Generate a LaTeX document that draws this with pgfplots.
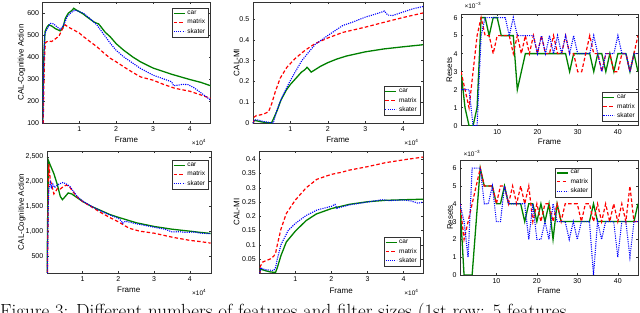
\documentclass[border=0pt]{standalone}
\usepackage{fontspec}
\usepackage{pgfplots}
\pgfplotsset{compat=1.18}
\newfontfamily\arial{Liberation Sans}
\definecolor{mgreen}{rgb}{0,0.5,0}
\definecolor{mred}{rgb}{1,0,0}
\definecolor{mblue}{rgb}{0,0,1}
\tikzset{
  pcar/.style={draw=mgreen, solid, line width=1.3bp},
  pmat/.style={draw=mred, line width=1.2bp, dash pattern=on 3.5bp off 2.2bp},
  pska/.style={draw=mblue, line width=1.1bp, dash pattern=on 1.1bp off 1.1bp},
}
\pgfplotsset{
  legend image code/.code={\draw[#1] (0bp,0bp) -- (11bp,0bp);},
  matlab/.style={
    scale only axis,
    axis line style={black!80, line width=0.4bp},
    tick style={black!80, line width=0.4bp},
    tick align=inside,
    major tick length=2bp,
    /pgf/number format/assume math mode=true,
    ticklabel style={font=\arial\fontsize{7bp}{8bp}\selectfont},
    label style={font=\arial\fontsize{8bp}{9bp}\selectfont},
    legend style={font=\arial\fontsize{6.5bp}{7.5bp}\selectfont, draw=black!80, line width=0.4bp,
      inner xsep=1bp, inner ysep=0.6bp, row sep=-0.8bp},
    legend cell align=left,
    xlabel={Frame},
    clip=true,
  },
}
\newcommand{\tlab}{\arial\fontsize{6.5bp}{7bp}\selectfont}
\begin{document}
\begin{tikzpicture}
% ---------- Panel 1 ----------
\begin{axis}[matlab, name=a1, at={(42.5bp,-1.7bp)}, anchor=north west,
  width=168bp, height=121.6bp, xmin=0, xmax=4.56, ymin=100, ymax=650,
  xtick={1,2,3,4}, ytick={100,200,300,400,500,600},
  ylabel={CAL-Cognitive Action},
  ylabel style={at={(axis description cs:-0.124,0.5)}, anchor=center},
  xlabel style={at={(axis description cs:0.5,-0.137)}, anchor=center},
  legend style={at={(0.987,0.946)}, anchor=north east}]
\addplot[pcar] coordinates {(0.005,100) (0.02,250) (0.04,420) (0.07,515) (0.12,535) (0.17,545) (0.25,540) (0.35,528) (0.48,518) (0.55,530) (0.62,575) (0.7,598) (0.78,608) (0.85,620) (0.92,612) (1.0,605) (1.1,595) (1.2,582) (1.3,570) (1.4,558) (1.48,552) (1.52,550) (1.58,538) (1.7,512) (1.84,491) (2.0,460) (2.2,431) (2.45,400) (2.66,378) (3.0,350) (3.5,322) (4.0,298) (4.3,285) (4.56,270)};
\addlegendentry{car}
\addplot[pmat] coordinates {(0.02,100) (0.04,300) (0.06,420) (0.08,465) (0.15,472) (0.25,470) (0.35,482) (0.45,495) (0.55,530) (0.62,545) (0.7,535) (0.85,522) (1.0,508) (1.12,491) (1.3,468) (1.48,446) (1.65,420) (1.84,394) (2.0,378) (2.2,356) (2.45,330) (2.66,310) (3.0,295) (3.3,275) (3.6,258) (4.0,245) (4.3,228) (4.56,213)};
\addlegendentry{matrix}
\addplot[pska] coordinates {(0.01,100) (0.03,350) (0.06,500) (0.1,520) (0.21,552) (0.3,550) (0.4,535) (0.48,525) (0.56,540) (0.67,582) (0.78,602) (0.89,612) (1.0,605) (1.12,597) (1.3,572) (1.48,544) (1.65,505) (1.84,462) (2.0,430) (2.2,401) (2.45,372) (2.66,348) (3.0,318) (3.3,300) (3.5,288) (3.56,270) (3.65,272) (3.8,276) (3.95,275) (4.1,262) (4.3,238) (4.56,205)};
\addlegendentry{skater}
\end{axis}
\node[anchor=east, font=\tlab] at ([xshift=-1bp,yshift=-19bp]a1.south east) {×10\textsuperscript{4}};
% ---------- Panel 2 ----------
\begin{axis}[matlab, name=a2, at={(252.7bp,-1.7bp)}, anchor=north west,
  width=170.3bp, height=121.6bp, xmin=0, xmax=4.54, ymin=0, ymax=0.582,
  xtick={1,2,3,4}, ytick={0,0.1,0.2,0.3,0.4,0.5},
  yticklabels={0,0.1,0.2,0.3,0.4,0.5},
  ylabel={CAL-MI},
  ylabel style={at={(axis description cs:-0.094,0.5)}, anchor=center},
  xlabel style={at={(axis description cs:0.5,-0.137)}, anchor=center},
  legend style={at={(0.982,0.0625)}, anchor=south east}]
\addplot[pcar] coordinates {(0.01,0) (0.04,0.014) (0.1,0.012) (0.2,0.008) (0.3,0.005) (0.4,0.003) (0.5,0.002) (0.55,0.02) (0.65,0.06) (0.75,0.11) (0.9,0.16) (1.0,0.185) (1.1,0.205) (1.2,0.225) (1.3,0.245) (1.38,0.255) (1.45,0.268) (1.5,0.258) (1.56,0.245) (1.65,0.255) (1.8,0.272) (2.0,0.29) (2.25,0.308) (2.5,0.322) (3.0,0.342) (3.5,0.356) (4.0,0.366) (4.54,0.376)};
\addlegendentry{car}
\addplot[pmat] coordinates {(0.02,0.0) (0.04,0.03) (0.1,0.037) (0.2,0.04) (0.3,0.045) (0.42,0.055) (0.5,0.09) (0.6,0.15) (0.73,0.215) (0.91,0.268) (1.13,0.31) (1.4,0.35) (1.67,0.382) (2.0,0.408) (2.4,0.435) (3.0,0.46) (3.47,0.482) (4.0,0.506) (4.54,0.528)};
\addlegendentry{matrix}
\addplot[pska] coordinates {(0.01,0.0) (0.04,0.016) (0.1,0.017) (0.2,0.013) (0.3,0.008) (0.45,0.004) (0.55,0.002) (0.64,0.06) (0.78,0.125) (0.96,0.19) (1.13,0.245) (1.31,0.30) (1.49,0.34) (1.67,0.378) (2.0,0.42) (2.2,0.444) (2.4,0.468) (2.66,0.484) (3.0,0.508) (3.37,0.528) (3.51,0.537) (3.6,0.518) (3.73,0.516) (4.0,0.532) (4.27,0.548) (4.54,0.559)};
\addlegendentry{skater}
\end{axis}
\node[anchor=east, font=\tlab] at ([xshift=-1bp,yshift=-19bp]a2.south east) {×10\textsuperscript{4}};
% ---------- Panel 3 ----------
\begin{axis}[matlab, name=a3, at={(461bp,-14bp)}, anchor=north west,
  width=177bp, height=111.7bp, xmin=1, xmax=45, ymin=0, ymax=6.2,
  xtick={10,20,30,40}, ytick={0,1,2,3,4,5,6},
  ylabel={Resets},
  ylabel style={at={(axis description cs:-0.066,0.5)}, anchor=center},
  xlabel style={at={(axis description cs:0.5,-0.143)}, anchor=center},
  legend style={at={(1,0.036)}, anchor=south east}]
\addplot[pcar] coordinates {(1,3)(2,1)(3,0)(4,0)(5,1)(6,6)(7,6)(8,5)(9,6)(10,6)(11,5)(12,5)(13,5)(14,5)(15,2)(16,3)(17,4)(18,4)(19,4)(20,4)(21,4)(22,4)(23,4)(24,4)(25,4)(26,4)(27,4)(28,3)(29,4)(30,4)(31,4)(32,4)(33,4)(34,3)(35,4)(36,4)(37,3)(38,4)(39,3)(40,4)(41,4)(42,4)(43,3)(44,4)(45,3)};
\addlegendentry{car}
\addplot[pmat] coordinates {(1,3)(2,2)(3,1)(4,3)(5,5)(6,6)(7,5)(8,5)(9,4)(10,5)(11,5)(12,5)(13,5)(14,4)(15,5)(16,4)(17,5)(18,4)(19,5)(20,4)(21,5)(22,4)(23,4)(24,5)(25,4)(26,4)(27,5)(28,4)(29,4)(30,3)(31,3)(32,4)(33,5)(34,4)(35,4)(36,3)(37,4)(38,4)(39,3)(40,3)(41,4)(42,4)(43,3)(44,4)(45,5)};
\addlegendentry{matrix}
\addplot[pska] coordinates {(1,2)(2,2)(3,2)(4,0)(5,0)(6,5)(7,6)(8,6)(9,6)(10,6)(11,6)(12,6)(13,5)(14,6)(15,5)(16,5)(17,5)(18,5)(19,5)(20,4)(21,5)(22,4)(23,5)(24,4)(25,5)(26,4)(27,5)(28,4)(29,5)(30,4)(31,4)(32,4)(33,4)(34,5)(35,4)(36,3)(37,4)(38,4)(39,4)(40,5)(41,4)(42,4)(43,3)(44,4)(45,4)};
\addlegendentry{skater}
\end{axis}
\node[anchor=south west, font=\tlab] at ([xshift=0bp,yshift=2bp]a3.north west) {×10\textsuperscript{−3}};
% ---------- Panel 4 ----------
\begin{axis}[matlab, name=a4, at={(46.7bp,-151bp)}, anchor=north west,
  width=164bp, height=122bp, xmin=0, xmax=4.58, ymin=158, ymax=2615,
  xtick={1,2,3,4}, ytick={500,1000,1500,2000,2500},
  ylabel={CAL-Cognitive Action},
  ylabel style={at={(axis description cs:-0.152,0.5)}, anchor=center},
  xlabel style={at={(axis description cs:0.5,-0.139)}, anchor=center},
  legend style={at={(0.985,0.926)}, anchor=north east}]
\addplot[pcar] coordinates {(0.01,160) (0.03,1500) (0.05,2420) (0.1,2330) (0.2,2160) (0.3,1930) (0.38,1700) (0.44,1635) (0.52,1700) (0.6,1770) (0.7,1750) (0.8,1700) (0.9,1650) (1.0,1600) (1.25,1500) (1.5,1420) (1.75,1340) (2.0,1280) (2.5,1170) (3.0,1095) (3.5,1040) (4.0,1000) (4.3,975) (4.58,955)};
\addlegendentry{car}
\addplot[pmat] coordinates {(0.02,160) (0.04,1500) (0.06,2350) (0.08,2200) (0.1,2030) (0.15,1900) (0.2,1750) (0.25,1800) (0.3,1860) (0.38,1850) (0.45,1890) (0.55,1930) (0.65,1880) (0.75,1780) (0.85,1690) (1.0,1600) (1.25,1490) (1.5,1380) (1.75,1280) (2.0,1190) (2.3,1060) (2.6,1000) (3.0,960) (3.5,880) (4.0,815) (4.3,790) (4.58,760)};
\addlegendentry{matrix}
\addplot[pska] coordinates {(0.02,160) (0.04,1400) (0.06,1850) (0.08,1900) (0.1,1980) (0.13,1880) (0.17,1950) (0.22,1880) (0.3,1930) (0.38,1960) (0.45,1980) (0.55,1950) (0.65,1900) (0.75,1800) (0.85,1700) (1.0,1610) (1.25,1500) (1.5,1410) (1.75,1330) (2.0,1260) (2.08,1210) (2.12,1160) (2.2,1200) (2.5,1150) (3.0,1080) (3.3,1040) (3.5,985) (3.7,990) (3.9,975) (4.1,985) (4.3,960) (4.45,955) (4.58,950)};
\addlegendentry{skater}
\end{axis}
\node[anchor=east, font=\tlab] at ([xshift=-1bp,yshift=-19bp]a4.south east) {×10\textsuperscript{4}};
% ---------- Panel 5 ----------
\begin{axis}[matlab, name=a5, at={(259.3bp,-151bp)}, anchor=north west,
  width=163.7bp, height=122.3bp, xmin=0, xmax=4.54, ymin=0, ymax=0.429,
  xtick={1,2,3,4}, ytick={0.05,0.1,0.15,0.2,0.25,0.3,0.35,0.4},
  yticklabels={0.05,0.1,0.15,0.2,0.25,0.3,0.35,0.4},
  ylabel={CAL-MI},
  ylabel style={at={(axis description cs:-0.138,0.5)}, anchor=center},
  xlabel style={at={(axis description cs:0.5,-0.142)}, anchor=center},
  legend style={at={(0.982,0.054)}, anchor=south east}]
\addplot[pcar] coordinates {(0.01,0.0) (0.03,0.015) (0.1,0.012) (0.2,0.008) (0.3,0.005) (0.45,0.003) (0.5,0.02) (0.6,0.062) (0.75,0.11) (1.0,0.148) (1.3,0.185) (1.58,0.208) (2.0,0.227) (2.5,0.242) (3.0,0.251) (3.5,0.256) (4.0,0.258) (4.56,0.26)};
\addlegendentry{car}
\addplot[pmat] coordinates {(0.02,0.0) (0.03,0.025) (0.1,0.04) (0.2,0.045) (0.3,0.05) (0.4,0.06) (0.45,0.07) (0.5,0.1) (0.6,0.155) (0.75,0.21) (1.0,0.257) (1.3,0.3) (1.6,0.33) (2.0,0.347) (2.3,0.355) (2.5,0.362) (3.0,0.374) (3.5,0.388) (4.0,0.398) (4.56,0.408)};
\addlegendentry{matrix}
\addplot[pska] coordinates {(0.01,0.0) (0.04,0.02) (0.1,0.015) (0.2,0.012) (0.4,0.01) (0.45,0.02) (0.5,0.05) (0.6,0.1) (0.8,0.15) (1.0,0.175) (1.3,0.203) (1.6,0.222) (2.0,0.235) (2.1,0.242) (2.15,0.228) (2.5,0.24) (3.0,0.25) (3.4,0.258) (3.6,0.255) (4.0,0.257) (4.2,0.254) (4.4,0.246) (4.56,0.25)};
\addlegendentry{skater}
\end{axis}
\node[anchor=east, font=\tlab] at ([xshift=-1bp,yshift=-19bp]a5.south east) {×10\textsuperscript{4}};
% ---------- Panel 6 ----------
\begin{axis}[matlab, name=a6, at={(460bp,-160bp)}, anchor=north west,
  width=178bp, height=115bp, xmin=1, xmax=45, ymin=0, ymax=6.46,
  xtick={10,20,30,40}, ytick={0,1,2,3,4,5,6},
  ylabel={Resets},
  ylabel style={at={(axis description cs:-0.056,0.5)}, anchor=center},
  xlabel style={at={(axis description cs:0.5,-0.139)}, anchor=center},
  legend style={at={(0.534,0.933)}, anchor=north west}]
\addplot[pcar] coordinates {(1,4)(2,0)(3,0)(4,0)(5,3)(6,6)(7,5)(8,5)(9,5)(10,4)(11,4)(12,5)(13,4)(14,4)(15,4)(16,4)(17,3)(18,4)(19,4)(20,3)(21,4)(22,3)(23,4)(24,2)(25,4)(26,3)(27,3)(28,3)(29,3)(30,3)(31,3)(32,3)(33,3)(34,4)(35,3)(36,3)(37,3)(38,3)(39,3)(40,3)(41,3)(42,3)(43,3)(44,3)(45,4)};
\addlegendentry{car}
\addplot[pmat] coordinates {(1,4)(2,2)(3,3)(4,4)(5,5)(6,6)(7,5)(8,5)(9,5)(10,4)(11,5)(12,5)(13,4)(14,5)(15,4)(16,5)(17,4)(18,5)(19,3)(20,4)(21,3)(22,4)(23,4)(24,3)(25,4)(26,3)(27,4)(28,4)(29,4)(30,4)(31,3)(32,4)(33,4)(34,3)(35,4)(36,3)(37,4)(38,3)(39,4)(40,3)(41,4)(42,3)(43,5)(44,3)(45,3)};
\addlegendentry{matrix}
\addplot[pska] coordinates {(1,4)(2,3)(3,1)(4,6)(5,6)(6,6)(7,4)(8,4)(9,5)(10,3)(11,3)(12,5)(13,4)(14,4)(15,4)(16,4)(17,4)(18,2)(19,4)(20,2)(21,2)(22,3)(23,2)(24,4)(25,3)(26,3)(27,3)(28,2)(29,3)(30,2)(31,3)(32,3)(33,3)(34,0)(35,3)(36,2)(37,3)(38,3)(39,3)(40,1)(41,3)(42,3)(43,1)(44,3)(45,3)};
\addlegendentry{skater}
\end{axis}
\node[anchor=south west, font=\tlab] at ([xshift=0bp,yshift=0bp]a6.north west) {×10\textsuperscript{−3}};
% ---------- caption (cut by the page edge) ----------
\node[anchor=base west, inner sep=0pt, font=\fontsize{19bp}{22bp}\selectfont] at (0bp,-317.5bp)
  {Figure 3: Different numbers of features and filter sizes (1st row: 5 features};
\pgfresetboundingbox
\useasboundingbox (0bp,0bp) rectangle (640bp,-313bp);
\end{tikzpicture}
\end{document}
